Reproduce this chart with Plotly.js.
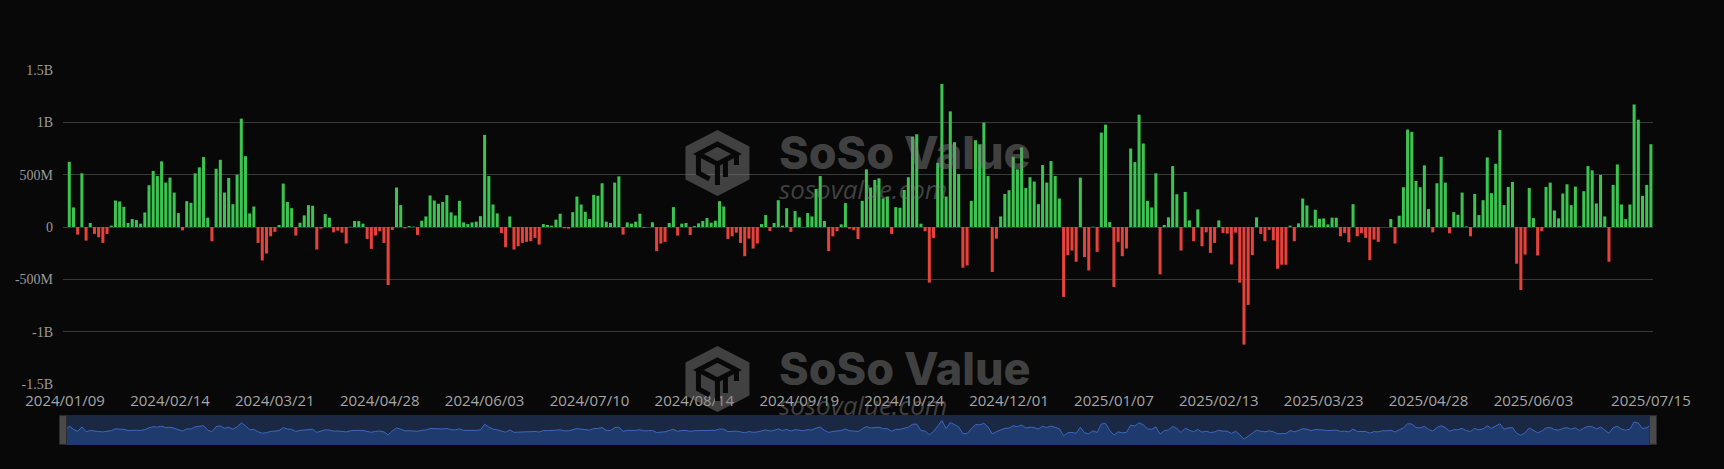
<!DOCTYPE html>
<html>
<head>
<meta charset="utf-8">
<script src="https://cdn.plot.ly/plotly-3.0.1.min.js"></script>
<style>
html,body{margin:0;padding:0;background:#080808;}
#chart{width:1724px;height:469px;}
</style>
</head>
<body>
<div id="chart"></div>
<script>
// Daily net inflow (millions USD), one value per category (index 0 .. 378)
const netInflowM = [
  0, 623, 187, -73, 513, -130, 38, -66, -98, -152, -66, 13, 253, 244, 193, 38, 76, 66, 32, 139,
  399, 535, 487, 627, 424, 472, 329, 133, -32, 247, 231, 513, 570, 668, 89, -136, 557, 642, 329, 468,
  218, 500, 1035, 677, 130, 196, -152, -320, -253, -89, -47, 19, 415, 240, 180, -82, 41, 111, 209, 203,
  -215, -16, 123, 89, -51, -35, -54, -158, 2, 57, 57, 32, -114, -209, -82, -41, -152, -554, -28, 377,
  209, -13, 9, 3, -76, 60, 101, 301, 253, 222, 240, 304, 140, 110, 250, 44, 28, 44, 51, 104,
  880, 487, 215, 130, -57, -193, 101, -215, -184, -152, -142, -136, -104, -168, 28, 19, 13, 70, 127, -13,
  -16, 142, 291, 215, 146, 76, 307, 298, 418, 51, 38, 424, 484, -73, 44, 32, 51, 127, -9, 0,
  45, -231, -158, -142, 38, 190, -82, 32, 38, -76, 9, 35, 57, 85, 41, 60, 247, 196, -114, -89,
  -54, -152, -279, -111, -206, -158, 28, 114, -38, 38, 256, 13, 180, -47, 152, 92, 0, 133, 101, 364,
  487, 57, -231, -89, -41, 25, 228, -16, -30, -115, 250, 551, 377, 449, 465, 272, 291, -66, 190, 184,
  354, 475, 861, 886, 32, -41, -532, -104, 614, 1367, 291, 1105, 810, 506, -389, -367, 250, 829, 788, 997,
  487, -430, -111, 101, 316, 351, 671, 551, 760, 373, 475, 434, 218, 592, 424, 630, 487, 272, -668, -269,
  -225, -332, 472, -288, -415, 3, -237, 902, 978, 47, -573, -142, -279, -206, 750, 620, 1073, 798, 250, 187,
  513, -453, 19, 92, 582, 313, -225, 335, 63, -136, 168, -184, -51, -247, -152, 63, -57, -63, -358, -54,
  -532, -1124, -744, -269, 92, -66, -136, -28, -127, -399, -361, -361, 13, -136, 35, 272, 206, 13, 165, 79,
  82, 25, 89, 89, -89, -57, -146, 218, -89, -57, -104, -317, -120, -142, 0, 0, 76, -158, 108, 380,
  931, 908, 440, 380, 589, 171, -51, 418, 671, 424, -60, 142, 117, 329, 6, -89, 316, 114, 256, 665,
  323, 604, 927, 209, 383, 430, -351, -601, -263, 373, 85, -272, -41, 383, 424, 158, 82, 320, 408, 209,
  386, 6, 342, 582, 541, 225, 497, 101, -332, 402, 598, 215, 76, 215, 1171, 1025, 298, 402, 791
];
const categoryIndex = netInflowM.map((_, i) => i);

// x tick labels and the category index they sit on
const xTickIndex = [0, 25, 50, 75, 100, 125, 150, 175, 200, 225, 250, 275, 300, 325, 350, 378];
const xTickLabels = ['2024/01/09','2024/02/14','2024/03/21','2024/04/28','2024/06/03','2024/07/10',
  '2024/08/14','2024/09/19','2024/10/24','2024/12/01','2025/01/07','2025/02/13','2025/03/23',
  '2025/04/28','2025/06/03','2025/07/15'];

// y tick labels
const yTickVals = [-1500, -1000, -500, 0, 500, 1000, 1500];
const yTickLabels = ['-1.5B', '-1B', '-500M', '0', '500M', '1B', '1.5B'];

const GREEN = '#3cc451', RED = '#e6423a';
const barColors = netInflowM.map(v => v >= 0 ? GREEN : RED);

// slider data shadow (values shifted so the filled area rests on the slider floor)
const SHADOW_OFFSET = 1900;
const shadowY = netInflowM.map(v => v + SHADOW_OFFSET);

const barTrace = {
  type: 'bar', x: categoryIndex, y: netInflowM,
  marker: {color: barColors, line: {width: 0}},
  xaxis: 'x', yaxis: 'y', hoverinfo: 'skip'
};
const shadowTrace = {
  type: 'scatter', mode: 'lines', x: categoryIndex, y: shadowY,
  fill: 'tozeroy', fillcolor: '#1f3a6c',
  line: {color: '#3c67bf', width: 1},
  xaxis: 'x2', yaxis: 'y2', hoverinfo: 'skip'
};

const WM = 'rgba(128,128,128,0.48)';
const BG = '#080808';
function logoShapes(yPaper) {
  const base = {xref: 'paper', yref: 'paper', xsizemode: 'pixel', ysizemode: 'pixel',
                xanchor: 0.4116, yanchor: yPaper, layer: 'above'};
  return [
    Object.assign({}, base, {type: 'path',
      path: 'M 0,33 L 32,16.5 L 32,-16.5 L 0,-33 L -32,-16.5 L -32,16.5 Z',
      fillcolor: WM, line: {width: 0}}),
    Object.assign({}, base, {type: 'path',
      path: 'M -19,9 L 0,19 L 19,9 L 0,-1 Z M 0,-1 L 0,-22 M -19,9 L -19,-10 L -8,-16 M 19,9 L 19,-2 M 8,4 L 8,-14',
      line: {color: BG, width: 5}})
  ];
}

const shapes = [
  {type: 'rect', xref: 'x2 domain', yref: 'y2 domain', x0: 0, x1: 1, y0: 0, y1: 1,
   fillcolor: '#1b2844', line: {width: 0}, layer: 'below'},
  {type: 'rect', xref: 'x2 domain', yref: 'y2 domain', xsizemode: 'pixel', xanchor: 0,
   x0: -3.5, x1: 3.5, y0: 0.02, y1: 0.98, fillcolor: '#4a4a4a', line: {color: '#2c2c2c', width: 1}},
  {type: 'rect', xref: 'x2 domain', yref: 'y2 domain', xsizemode: 'pixel', xanchor: 1,
   x0: -3.5, x1: 3.5, y0: 0.02, y1: 0.98, fillcolor: '#4a4a4a', line: {color: '#2c2c2c', width: 1}}
].concat(logoShapes(0.752), logoShapes(0.176));

function wmAnnotations(dy) {
  return [
    {xref: 'paper', yref: 'paper', x: 0.449, y: 0.781 + dy, xanchor: 'left', yanchor: 'middle',
     text: 'SoSo Value', showarrow: false,
     font: {family: 'Inter', size: 45, weight: 800, color: WM}},
    {xref: 'paper', yref: 'paper', x: 0.449, y: 0.683 + dy, xanchor: 'left', yanchor: 'middle',
     text: 'sosovalue.com', showarrow: false,
     font: {family: 'Open Sans', size: 26, style: 'italic', color: WM}}
  ];
}

const layout = {
  width: 1724, height: 469,
  paper_bgcolor: BG, plot_bgcolor: BG,
  margin: {l: 63, r: 71, t: 70, b: 24},
  showlegend: false,
  bargap: 0.28,
  xaxis: {
    domain: [0, 1], range: [-0.5, 378.5], anchor: 'y',
    tickmode: 'array', tickvals: xTickIndex, ticktext: xTickLabels,
    ticks: '', showgrid: false, zeroline: false, showline: false,
    tickfont: {family: 'Open Sans', size: 15, color: '#a6a6a6'},
    ticklabelstandoff: 6, fixedrange: true
  },
  yaxis: {
    domain: [0.16267, 1], range: [-1500, 1500], anchor: 'x',
    tickmode: 'array', tickvals: yTickVals, ticktext: yTickLabels,
    ticks: '', showgrid: true, gridcolor: '#3a3a3a', gridwidth: 1,
    zeroline: false, showline: false,
    tickfont: {family: 'Liberation Serif', size: 14, color: '#9a9a9a'},
    ticklabelstandoff: 9, fixedrange: true
  },
  xaxis2: {domain: [0, 1], range: [-0.5, 378.5], anchor: 'y2', visible: false, fixedrange: true},
  yaxis2: {domain: [0, 0.08], range: [0, 4000], anchor: 'x2', visible: false, fixedrange: true},
  shapes: shapes,
  annotations: wmAnnotations(0).concat(wmAnnotations(-0.576))
};

Plotly.newPlot('chart', [barTrace, shadowTrace], layout, {displayModeBar: false, staticPlot: true});
</script>
</body>
</html>
